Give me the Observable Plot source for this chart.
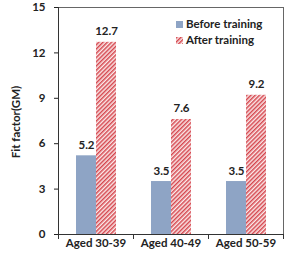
<!DOCTYPE html>
<html>
<head>
<meta charset="utf-8">
<script src="https://cdn.jsdelivr.net/npm/d3@7"></script>
<script src="https://cdn.jsdelivr.net/npm/@observablehq/plot@0.6"></script>
<style>
  html, body { margin: 0; padding: 0; background: #fff; }
  #wrap { position: relative; width: 285px; height: 253px; }
  #legend { position: absolute; left: 176px; top: 16px; font: bold 11.5px Lato, sans-serif; color: #222; line-height: 16px; }
  #legend div { display: flex; align-items: center; white-space: nowrap; }
  #legend svg { margin-right: 3px; }
  #ytitle { position: absolute; left: 15px; top: 122px; transform: translate(-50%, -50%) rotate(-90deg); font: bold 11.5px Lato, sans-serif; color: #222; white-space: nowrap; }
</style>
</head>
<body>
<div id="wrap"><div id="legend"></div><div id="ytitle"></div></div>
<script>
const categories = ["Aged 30-39", "Aged 40-49", "Aged 50-59"];
const series = ["Before training", "After training"];
const before = [5.2, 3.5, 3.5];
const after = [12.7, 7.6, 9.2];
const yTicks = [0, 3, 6, 9, 12, 15];
const yTitle = "Fit factor(GM)";
const colors = ["#8ea4c5", "url(#hatch)"];

const rows = [];
categories.forEach((c, i) => {
  rows.push({category: c, series: series[0], value: before[i]});
  rows.push({category: c, series: series[1], value: after[i]});
});

const W = 285, H = 253, mT = 7, mB = 19;
const plotH = H - mT - mB;

const chart = Plot.plot({
  width: W, height: H,
  marginLeft: 58, marginRight: 2, marginTop: mT, marginBottom: mB,
  style: {fontFamily: "Lato, sans-serif", fontSize: "11.5px", fontWeight: "bold", color: "#222", background: "white"},
  fx: {domain: categories, padding: 0, axis: "bottom", label: null, tickSize: 0, tickPadding: 4},
  x: {domain: series, paddingInner: 0, paddingOuter: 0.786, axis: null},
  y: {domain: [0, 15], ticks: yTicks, tickSize: 4, tickPadding: 9, label: null},
  color: {domain: series, range: colors},
  marks: [
    Plot.barY(rows, {fx: "category", x: "series", y: "value", fill: "series"}),
    Plot.text(rows, {fx: "category", x: "series", y: "value", text: d => d.value.toFixed(1), dy: -7, lineAnchor: "bottom"}),
    Plot.frame({facet: "super", stroke: "#666"}),
    Plot.ruleY([0], {stroke: "#333"}),
    Plot.frame({facet: "super", anchor: "left", stroke: "#333"}),
    Plot.frame({anchor: "left", insetTop: plotH, insetBottom: -4, stroke: "#333"}),
    Plot.frame({facet: "super", anchor: "right", insetTop: plotH, insetBottom: -4, stroke: "#333"})
  ]
});

const NS = "http://www.w3.org/2000/svg";
const defs = document.createElementNS(NS, "defs");
const pat = document.createElementNS(NS, "pattern");
pat.setAttribute("id", "hatch");
pat.setAttribute("patternUnits", "userSpaceOnUse");
pat.setAttribute("width", "3");
pat.setAttribute("height", "3");
pat.setAttribute("patternTransform", "rotate(45)");
const bg = document.createElementNS(NS, "rect");
bg.setAttribute("width", "3"); bg.setAttribute("height", "3"); bg.setAttribute("fill", "#fbeaea");
const ln = document.createElementNS(NS, "line");
ln.setAttribute("x1", "0.75"); ln.setAttribute("y1", "0"); ln.setAttribute("x2", "0.75"); ln.setAttribute("y2", "3");
ln.setAttribute("stroke", "#d5474f"); ln.setAttribute("stroke-width", "1.5");
pat.appendChild(bg); pat.appendChild(ln); defs.appendChild(pat);
chart.insertBefore(defs, chart.firstChild);

const wrap = document.getElementById("wrap");
wrap.insertBefore(chart, wrap.firstChild);
document.getElementById("ytitle").textContent = yTitle;

const legend = document.getElementById("legend");
series.forEach((s, i) => {
  const row = document.createElement("div");
  row.innerHTML = `<svg width="7" height="7"><rect width="7" height="7" fill="${colors[i]}"></rect></svg><span>${s}</span>`;
  legend.appendChild(row);
});
</script>
</body>
</html>
